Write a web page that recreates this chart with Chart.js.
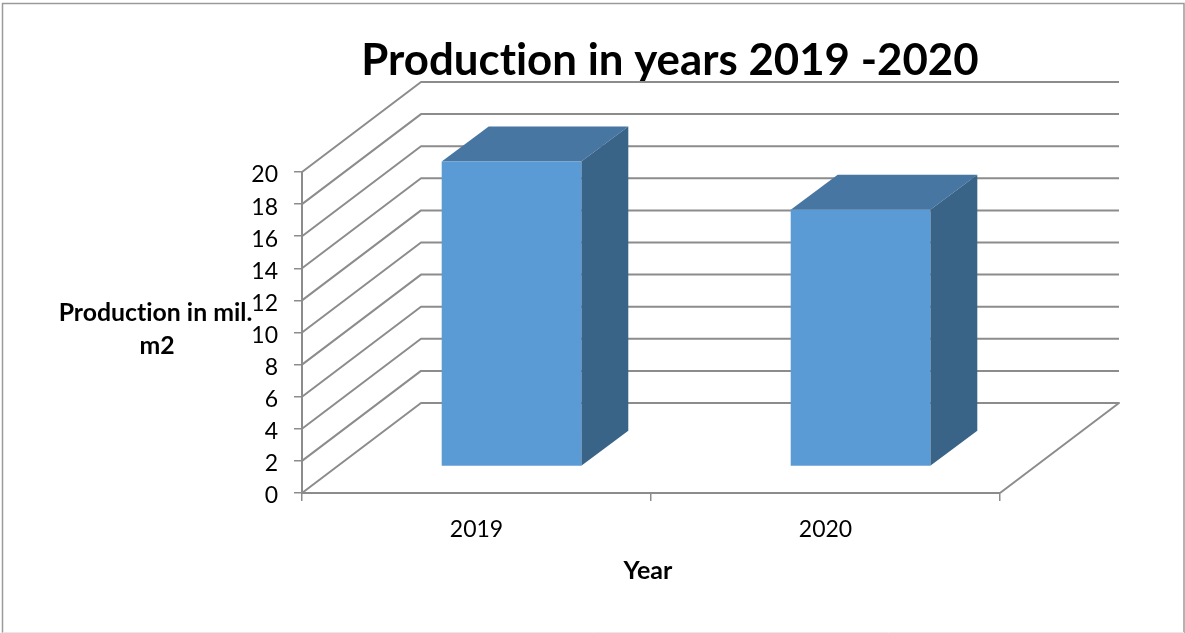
<!DOCTYPE html>
<html>
<head>
<meta charset="utf-8">
<title>Production in years 2019 -2020</title>
<script src="https://cdn.jsdelivr.net/npm/chart.js@4"></script>
<style>
    body { margin: 0; background: #fff; }
    canvas { display: block; }
</style>
</head>
<body>
<canvas id="chart" width="1185" height="633"></canvas>
<script>
const years = ['2019', '2020']
const production = [19, 16]
const yTicks = [0, 2, 4, 6, 8, 10, 12, 14, 16, 18, 20]

const chartTitle = 'Production in years 2019 -2020'
const yTitle = ['Production in mil.', 'm2']
const xTitle = 'Year'

const fontName = 'Lato'
const lineColor = '#8c8c8c'

// fake 3d: how far the back wall and the bars are pushed up and right
const wall = { x: 119, y: -90 }
const barFront = { x: 35, y: -26.5 }
const barDepth = { x: 47, y: -35 }

function fillShape(ctx, color, points) {
    ctx.fillStyle = color
    ctx.beginPath()
    points.forEach((p, i) => i == 0 ? ctx.moveTo(p[0], p[1]) : ctx.lineTo(p[0], p[1]))
    ctx.closePath()
    ctx.fill()
}

const fake3d = {
    id: 'fake3d',
    afterLayout(chart) {
        // title sits a bit right of the plot center
        chart.titleBlock.left += 19
        chart.titleBlock.right += 19
    },
    beforeDraw(chart) {
        const ctx = chart.ctx
        // no "ti" ligatures, the original font has none
        ctx.letterSpacing = '0.01px'
        ctx.save()
        ctx.strokeStyle = '#9a9a9a'
        ctx.lineWidth = 1.5
        ctx.beginPath()
        ctx.moveTo(2.5, 633)
        ctx.lineTo(2.5, 3.5)
        ctx.lineTo(1184, 3.5)
        ctx.lineTo(1184, 633)
        ctx.stroke()
        ctx.strokeStyle = '#e8e8e8'
        ctx.lineWidth = 1
        ctx.beginPath()
        ctx.moveTo(2.5, 632.5)
        ctx.lineTo(1184, 632.5)
        ctx.stroke()
        ctx.restore()
    },
    beforeDatasetsDraw(chart) {
        const ctx = chart.ctx
        const xs = chart.scales.x
        const ys = chart.scales.y

        ctx.save()
        ctx.strokeStyle = lineColor
        ctx.lineWidth = 2
        ctx.lineJoin = 'round'
        yTicks.forEach(v => {
            const y = ys.getPixelForValue(v)
            ctx.beginPath()
            ctx.moveTo(xs.left, y)
            ctx.lineTo(xs.left + wall.x, y + wall.y)
            ctx.lineTo(xs.right + wall.x, y + wall.y)
            if (v == 0) ctx.lineTo(xs.right, y)
            ctx.stroke()
        })
        ctx.restore()

        // bars are the library's own, moved onto their plane in the depth
        ctx.save()
        ctx.translate(barFront.x, barFront.y)
        chart.getDatasetMeta(0).data.forEach(bar => {
            const l = bar.x - bar.width / 2
            const r = bar.x + bar.width / 2
            fillShape(ctx, '#4776a2', [
                [l, bar.y], [r, bar.y],
                [r + barDepth.x, bar.y + barDepth.y], [l + barDepth.x, bar.y + barDepth.y]
            ])
            fillShape(ctx, '#3a6487', [
                [r, bar.y], [r + barDepth.x, bar.y + barDepth.y],
                [r + barDepth.x, bar.base + barDepth.y], [r, bar.base]
            ])
        })
    },
    afterDatasetsDraw(chart) {
        chart.ctx.restore()

        const ctx = chart.ctx
        ctx.save()
        ctx.fillStyle = '#000'
        ctx.font = 'bold 24.8px ' + fontName
        ctx.textAlign = 'center'
        ctx.textBaseline = 'middle'
        ctx.fillText(yTitle[0], 155.5, 313)
        ctx.fillText(yTitle[1], 157, 346)
        ctx.font = 'bold 25px ' + fontName
        ctx.fillText(xTitle, 648, 571)
        ctx.restore()
    }
}

new Chart(document.getElementById('chart'), {
    type: 'bar',
    data: {
        labels: years,
        datasets: [{
            data: production,
            backgroundColor: '#5b9bd5',
            barPercentage: 0.4,
            categoryPercentage: 1,
            clip: false
        }]
    },
    plugins: [fake3d],
    options: {
        responsive: false,
        animation: false,
        layout: { padding: { left: 2, right: 185, top: 0, bottom: 0 } },
        plugins: {
            legend: { display: false },
            tooltip: { enabled: false },
            title: {
                display: true,
                text: chartTitle,
                color: '#000',
                fullSize: false,
                font: { family: fontName, size: 43.8, weight: 'bold', lineHeight: 1.2 },
                padding: { top: 35, bottom: 84.44 }
            }
        },
        scales: {
            x: {
                afterFit: scale => { scale.height = 140 },
                grid: { offset: true, drawOnChartArea: false, color: lineColor, lineWidth: 1.5, tickLength: 8 },
                border: { color: lineColor, width: 2 },
                ticks: { color: '#000', font: { family: fontName, size: 23 }, padding: 15, maxRotation: 0 }
            },
            y: {
                min: 0,
                max: 20,
                afterFit: scale => { scale.width = 300 },
                afterBuildTicks: scale => { scale.ticks = yTicks.map(v => ({ value: v })) },
                grid: { drawOnChartArea: false, color: lineColor, lineWidth: 1.5, tickLength: 8 },
                border: { color: lineColor, width: 2 },
                ticks: { color: '#000', font: { family: fontName, size: 23 }, padding: 16, labelOffset: 3 }
            }
        }
    }
})
</script>
</body>
</html>
